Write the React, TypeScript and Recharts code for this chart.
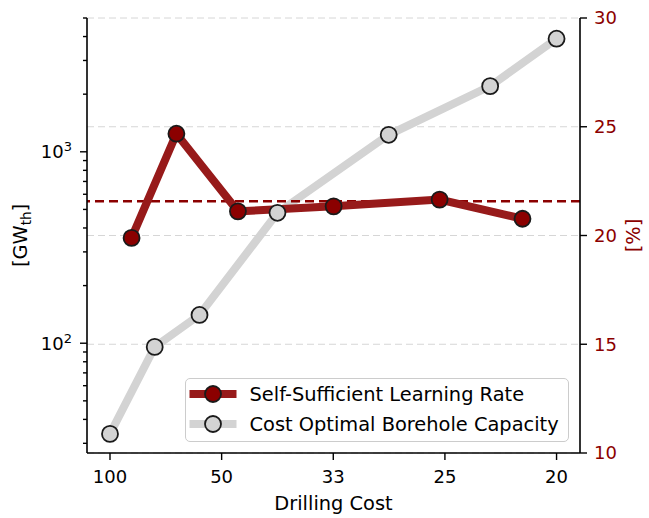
import React from 'react';
import { ComposedChart, Line, XAxis, YAxis, CartesianGrid, ReferenceLine, Legend } from 'recharts';

// drilling cost (x is drawn as 1/cost, so 100, 50, 33, 25, 20 sit evenly apart)
const capacityCost = [100, 71.4, 55.5, 40, 28.6, 22.7, 20];
const capacityGW = [33.6, 95.7, 140.5, 480, 1227, 2203, 3898];

const learningCost = [83.8, 62.7, 46.6, 33.3, 25.3, 21.3];
const learningRate = [19.89, 24.68, 21.11, 21.34, 21.65, 20.77];

const costTicks = [100, 50, 100 / 3, 25, 20];
const gwMajorTicks = [100, 1000];
const gwMinorTicks = [30, 40, 50, 60, 70, 80, 90, 200, 300, 400, 500, 600, 700, 800, 900, 2000, 3000, 4000, 5000];
const rateTicks = [10, 15, 20, 25, 30];

const RED = '#8b0000';
const FONT = 'DejaVu Sans';

const capacityData = capacityCost.map((c, i) => ({ x: 1 / c, gw: capacityGW[i] }));
const learningData = learningCost.map((c, i) => ({ x: 1 / c, rate: learningRate[i] }));
const meanRate = learningRate.reduce((a, b) => a + b, 0) / learningRate.length;
const gwTicks = [...gwMinorTicks, ...gwMajorTicks].sort((a, b) => a - b);

const LogTick = (props: any) => {
  const { x, y, payload } = props;
  const v = payload.value;
  const major = gwMajorTicks.includes(v);
  return (
    <g>
      <line x1={x - (major ? 7 : 4)} x2={x} y1={y} y2={y} stroke="#000" strokeWidth={1.4} />
      {major && (
        <text x={x - 15} y={y + 6.5} textAnchor="end" fontFamily={FONT} fontSize={18} fill="#000">
          10<tspan dy={-7} fontSize={13}>{Math.round(Math.log10(v))}</tspan>
        </text>
      )}
    </g>
  );
};

const GwLabel = (props: any) => {
  const vb = props.viewBox || { x: 0, y: 18, width: 87, height: 435 };
  const cx = vb.x + 27;
  const cy = vb.y + vb.height / 2;
  return (
    <text x={cx} y={cy} transform={`rotate(-90, ${cx}, ${cy})`} textAnchor="middle" fontFamily={FONT} fontSize={19.4} fill="#000">
      [GW<tspan fontSize={13.5} dy={4}>th</tspan><tspan dy={-4}>]</tspan>
    </text>
  );
};

const RateLabel = (props: any) => {
  const vb = props.viewBox || { x: 580, y: 18, width: 69, height: 435 };
  const cx = vb.x + 60;
  const cy = vb.y + vb.height / 2;
  return (
    <text x={cx} y={cy} transform={`rotate(-90, ${cx}, ${cy})`} textAnchor="middle" fontFamily={FONT} fontSize={19.4} fill={RED}>
      [%]
    </text>
  );
};

const legendItems = [
  { label: 'Self-Sufficient Learning Rate', line: '#971a1a', fill: RED },
  { label: 'Cost Optimal Borehole Capacity', line: '#d3d3d3', fill: '#d3d3d3' },
];

const LegendBox = () => (
  <div
    style={{
      width: 384,
      height: 64,
      boxSizing: 'border-box',
      border: '1.5px solid #cccccc',
      borderRadius: 5,
      background: 'rgba(255,255,255,0.8)',
      fontFamily: FONT,
      fontSize: 19.4,
      color: '#000',
    }}
  >
    {legendItems.map((it) => (
      <div key={it.label} style={{ display: 'flex', alignItems: 'center', height: 30 }}>
        <svg width={60} height={30} style={{ flex: 'none' }}>
          <line x1={3.5} x2={50.5} y1={15} y2={15} stroke={it.line} strokeWidth={8} />
          <circle cx={27} cy={15} r={8} fill={it.fill} stroke="#1a1a1a" strokeWidth={1.8} />
        </svg>
        <span style={{ marginLeft: 3.5, whiteSpace: 'nowrap' }}>{it.label}</span>
      </div>
    ))}
  </div>
);

export default function App() {
  return (
    <div style={{ position: 'absolute', left: 0, top: 0, background: '#fff' }}>
      <ComposedChart width={649} height={518} margin={{ top: 18, right: 0, bottom: 0, left: 0 }}>
        <CartesianGrid yAxisId="right" vertical={false} stroke="#d6d6d6" strokeDasharray="7 4" />
        <XAxis
          dataKey="x"
          type="number"
          domain={[0.00794, 0.0521]}
          allowDataOverflow
          ticks={costTicks.map((c) => 1 / c)}
          tickFormatter={(v: number) => String(Math.round(1 / v))}
          interval={0}
          height={65}
          tickSize={7}
          tickMargin={10}
          axisLine={{ stroke: '#000', strokeWidth: 1.6 }}
          tickLine={{ stroke: '#000', strokeWidth: 1.4 }}
          tick={{ fill: '#000', fontSize: 18, fontFamily: FONT }}
          label={{ value: 'Drilling Cost', position: 'insideBottom', offset: 8, fill: '#000', fontSize: 19.4, fontFamily: FONT }}
        />
        <YAxis
          yAxisId="left"
          orientation="left"
          scale="log"
          domain={[26.7, 5000]}
          allowDataOverflow
          ticks={gwTicks}
          interval={0}
          width={87}
          tickSize={0}
          tickMargin={0}
          tickLine={false}
          axisLine={{ stroke: '#000', strokeWidth: 1.6 }}
          tick={<LogTick />}
          label={<GwLabel />}
        />
        <YAxis
          yAxisId="right"
          orientation="right"
          type="number"
          domain={[10, 30]}
          ticks={rateTicks}
          interval={0}
          width={69}
          tickSize={7}
          tickMargin={7}
          axisLine={{ stroke: '#000', strokeWidth: 1.6 }}
          tickLine={{ stroke: '#000', strokeWidth: 1.4 }}
          tick={{ fill: RED, fontSize: 18, fontFamily: FONT }}
          label={<RateLabel />}
        />
        <Line
          yAxisId="left"
          data={capacityData}
          dataKey="gw"
          type="linear"
          stroke="#d3d3d3"
          strokeWidth={8}
          dot={{ r: 8, fill: '#d3d3d3', stroke: '#1a1a1a', strokeWidth: 1.8 }}
          activeDot={false}
          isAnimationActive={false}
          legendType="none"
        />
        <ReferenceLine yAxisId="right" y={meanRate} stroke={RED} strokeWidth={2.5} strokeDasharray="9 5" />
        <Line
          yAxisId="right"
          data={learningData}
          dataKey="rate"
          type="linear"
          stroke="#971a1a"
          strokeWidth={8}
          dot={{ r: 8, fill: RED, stroke: '#1a1a1a', strokeWidth: 1.8 }}
          activeDot={false}
          isAnimationActive={false}
          legendType="none"
        />
        <Legend
          layout="vertical"
          align="center"
          verticalAlign="middle"
          width={384}
          wrapperStyle={{ left: 185, top: 378, width: 384, height: 64 }}
          content={<LegendBox />}
        />
      </ComposedChart>
    </div>
  );
}
